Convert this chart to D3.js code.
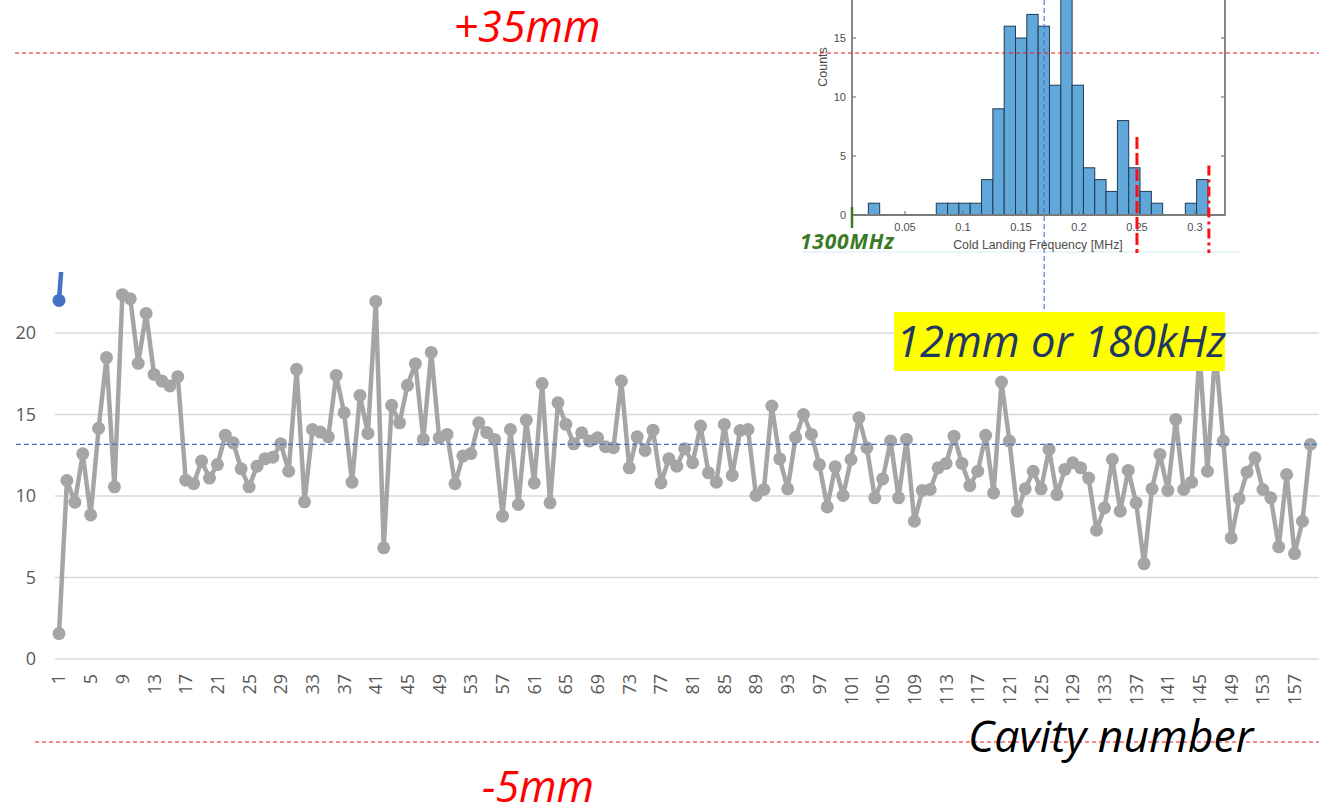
<!DOCTYPE html>
<html>
<head>
<meta charset="utf-8">
<script src="https://cdn.jsdelivr.net/npm/d3@7/dist/d3.min.js"></script>
<style>
    body { margin: 0; background: #fff; }
    svg { display: block; }
</style>
</head>
<body>
<svg id="chart" width="1319" height="811"></svg>
<script>
// Cavity data (gray series), one value per cavity, starting at cavity 1
var cavityValues = [
    1.56, 10.95, 9.62, 12.59, 8.84, 14.15, 18.49, 10.56, 22.35, 22.1,
    18.14, 21.2, 17.46, 17.05, 16.75, 17.32, 10.97, 10.75, 12.14, 11.1,
    11.93, 13.73, 13.26, 11.67, 10.56, 11.83, 12.28, 12.38, 13.2, 11.52,
    17.77, 9.64, 14.08, 13.92, 13.63, 17.4, 15.1, 10.85, 16.17, 13.84,
    21.94, 6.82, 15.56, 14.49, 16.79, 18.12, 13.47, 18.81, 13.57, 13.78,
    10.75, 12.45, 12.6, 14.5, 13.9, 13.47, 8.76, 14.08, 9.48, 14.66,
    10.8, 16.9, 9.58, 15.72, 14.4, 13.2, 13.88, 13.37, 13.57, 13.02,
    12.96, 17.05, 11.73, 13.63, 12.79, 14.04, 10.8, 12.28, 11.83, 12.9,
    12.04, 14.29, 11.42, 10.85, 14.39, 11.26, 14.02, 14.08, 10.03, 10.4,
    15.52, 12.28, 10.44, 13.6, 15.0, 13.78, 11.93, 9.33, 11.79, 10.03,
    12.24, 14.8, 12.96, 9.89, 11.05, 13.37, 9.89, 13.47, 8.45, 10.34,
    10.4, 11.73, 12.0, 13.67, 12.0, 10.64, 11.52, 13.72, 10.19, 16.99,
    13.37, 9.07, 10.44, 11.52, 10.44, 12.86, 10.09, 11.63, 12.04, 11.73,
    11.1, 7.9, 9.27, 12.24, 9.07, 11.57, 9.58, 5.85, 10.44, 12.55,
    10.34, 14.7, 10.4, 10.85, 18.8, 11.52, 19.0, 13.37, 7.43, 9.83,
    11.46, 12.34, 10.4, 9.89, 6.88, 11.32, 6.47, 8.45, 13.16
];
// Second (blue) series, only its first point is inside the plot
var blueValues = [22.0, 28.5];
var yTicks = [0, 5, 10, 15, 20];
var xTicks = d3.range(1, 162, 4);
var meanLevel = 13.17;          // blue dashed reference
var limitLevels = [37.18, -5.09]; // +35mm / -5mm red dashed lines

// Histogram inset (cold landing frequency)
var histCounts = [1, 0, 0, 0, 0, 0, 1, 1, 1, 1, 3, 9, 16, 15, 17, 16, 11, 20, 11, 4, 3, 2, 8, 4, 2, 1, 0, 0, 1, 3];
var histStart = 0.0184;
var histBin = 0.00976;
var histXTicks = [0.05, 0.1, 0.15, 0.2, 0.25, 0.3];
var histYTicks = [0, 5, 10, 15];
var markerFreq = 0.17;
var redFreqs = [0.25, 0.312];
var redTops = [6.6, 4.2];

var svg = d3.select('#chart');

var x = d3.scaleLinear().domain([1, cavityValues.length]).range([59, 1310.4]);
var y = d3.scaleLinear().domain([0, 20]).range([659, 333]);

svg.append('defs').append('clipPath').attr('id', 'plotClip')
    .append('rect').attr('x', 0).attr('y', 272).attr('width', 1319).attr('height', 430);

// Gridlines + y labels
var grid = svg.append('g').attr('class', 'grid');
grid.selectAll('line').data(yTicks).enter().append('line')
    .attr('x1', 55).attr('x2', 1319)
    .attr('y1', function (d) { return y(d); })
    .attr('y2', function (d) { return y(d); })
    .style('stroke', '#d9d9d9').style('stroke-width', 1.6);
grid.selectAll('text').data(yTicks).enter().append('text')
    .attr('x', 36)
    .attr('y', function (d) { return y(d); })
    .attr('dy', '0.35em')
    .attr('text-anchor', 'end')
    .style('font', '18px "Open Sans", sans-serif')
    .style('fill', '#595959')
    .text(function (d) { return d; });

// x labels, rotated
svg.append('g').attr('class', 'xlabels')
    .selectAll('text').data(xTicks).enter().append('text')
    .attr('transform', function (d) { return 'translate(' + x(d) + ',674) rotate(-90)'; })
    .attr('dy', '0.36em')
    .attr('text-anchor', 'end')
    .style('font', '18px "Open Sans", sans-serif')
    .style('fill', '#595959')
    .text(function (d) { return d; });

// Series
var line = d3.line()
    .x(function (d, i) { return x(i + 1); })
    .y(function (d) { return y(d); });

var plot = svg.append('g').attr('clip-path', 'url(#plotClip)');

plot.append('path').datum(blueValues)
    .attr('d', line)
    .style('fill', 'none').style('stroke', '#4472c4').style('stroke-width', 4.5)
    .style('stroke-linejoin', 'round');
plot.selectAll('circle.blue').data(blueValues).enter().append('circle')
    .attr('class', 'blue')
    .attr('cx', function (d, i) { return x(i + 1); })
    .attr('cy', function (d) { return y(d); })
    .attr('r', 6.5)
    .style('fill', '#4472c4');

plot.append('path').datum(cavityValues)
    .attr('d', line)
    .style('fill', 'none').style('stroke', '#a5a5a5').style('stroke-width', 4.5)
    .style('stroke-linejoin', 'round');
plot.selectAll('circle.gray').data(cavityValues).enter().append('circle')
    .attr('class', 'gray')
    .attr('cx', function (d, i) { return x(i + 1); })
    .attr('cy', function (d) { return y(d); })
    .attr('r', 6.5)
    .style('fill', '#a5a5a5');

// ---- Histogram inset ----
var hx = d3.scaleLinear().domain([0.00431, 0.3259]).range([852, 1225]);
var hy = d3.scaleLinear().domain([0, 15]).range([215, 38]);
var inset = svg.append('g').attr('class', 'inset');

inset.append('line')
    .attr('x1', 802).attr('x2', 1240).attr('y1', 252).attr('y2', 252)
    .style('stroke', '#d6ecf3').style('stroke-width', 1);

var bins = histCounts.map(function (c, i) {
    return { x0: histStart + i * histBin, x1: histStart + (i + 1) * histBin, count: c };
}).filter(function (d) { return d.count > 0; });

inset.selectAll('rect.bar').data(bins).enter().append('rect')
    .attr('class', 'bar')
    .attr('x', function (d) { return hx(d.x0); })
    .attr('y', function (d) { return hy(d.count); })
    .attr('width', function (d) { return hx(d.x1) - hx(d.x0); })
    .attr('height', function (d) { return hy(0) - hy(d.count); })
    .style('fill', '#62a7da')
    .style('stroke', '#1f3b55')
    .style('stroke-width', 1);

var axisColor = '#7a7a7a';
inset.append('path')
    .attr('d', 'M' + hx.range()[0] + ',0V' + hy(0) + 'H' + hx.range()[1] + 'V0')
    .style('fill', 'none').style('stroke', axisColor).style('stroke-width', 1.8);

inset.selectAll('line.ytl').data(histYTicks.slice(1)).enter().append('line')
    .attr('class', 'ytl')
    .attr('x1', hx.range()[0]).attr('x2', hx.range()[0] + 4)
    .attr('y1', function (d) { return hy(d); }).attr('y2', function (d) { return hy(d); })
    .style('stroke', axisColor).style('stroke-width', 1.2);
inset.selectAll('line.ytr').data(histYTicks.slice(1)).enter().append('line')
    .attr('class', 'ytr')
    .attr('x1', hx.range()[1]).attr('x2', hx.range()[1] - 4)
    .attr('y1', function (d) { return hy(d); }).attr('y2', function (d) { return hy(d); })
    .style('stroke', axisColor).style('stroke-width', 1.2);
inset.selectAll('line.xt').data(histXTicks).enter().append('line')
    .attr('class', 'xt')
    .attr('x1', function (d) { return hx(d); }).attr('x2', function (d) { return hx(d); })
    .attr('y1', hy(0)).attr('y2', hy(0) - 4)
    .style('stroke', axisColor).style('stroke-width', 1.2);

var insetFont = '"Liberation Sans", Arial, sans-serif';
inset.selectAll('text.yl').data(histYTicks).enter().append('text')
    .attr('class', 'yl')
    .attr('x', 846)
    .attr('y', function (d) { return hy(d); })
    .attr('dy', '0.35em')
    .attr('text-anchor', 'end')
    .style('font', '11px ' + insetFont)
    .style('fill', '#4d4d4d')
    .text(function (d) { return d; });
inset.selectAll('text.xl').data(histXTicks).enter().append('text')
    .attr('class', 'xl')
    .attr('x', function (d) { return hx(d); })
    .attr('y', 231)
    .attr('text-anchor', 'middle')
    .style('font', '11px ' + insetFont)
    .style('fill', '#4d4d4d')
    .text(function (d) { return d; });

inset.append('text')
    .attr('transform', 'translate(827,67) rotate(-90)')
    .attr('text-anchor', 'middle')
    .style('font', '12.5px ' + insetFont)
    .style('fill', '#4d4d4d')
    .text('Counts');
inset.append('text')
    .attr('x', 1038).attr('y', 249)
    .attr('text-anchor', 'middle')
    .style('font', '12.3px ' + insetFont)
    .style('fill', '#4d4d4d')
    .text('Cold Landing Frequency [MHz]');

// red limit markers in the histogram
inset.selectAll('line.red').data(redFreqs).enter().append('line')
    .attr('class', 'red')
    .attr('x1', function (d) { return hx(d); }).attr('x2', function (d) { return hx(d); })
    .attr('y1', function (d, i) { return hy(redTops[i]); }).attr('y2', 253)
    .style('stroke', '#ff1010').style('stroke-width', 3)
    .style('stroke-dasharray', function (d, i) { return i === 0 ? '12,4' : '10,4,3,4'; });

// 1300MHz marker
inset.append('line')
    .attr('x1', 852).attr('x2', 852).attr('y1', 207).attr('y2', 228)
    .style('stroke', '#3b7a25').style('stroke-width', 2.5);
inset.append('text')
    .attr('x', 800).attr('y', 249)
    .style('font', 'italic bold 21px "Open Sans", sans-serif')
    .style('letter-spacing', '0.8px')
    .style('fill', '#3b7a25')
    .text('1300MHz');

// ---- Reference lines & annotations ----
svg.append('line')
    .attr('x1', 16).attr('x2', 1319)
    .attr('y1', y(meanLevel)).attr('y2', y(meanLevel))
    .style('stroke', '#4472c4').style('stroke-width', 1.1).style('stroke-dasharray', '5,3');
svg.append('line')
    .attr('x1', hx(markerFreq)).attr('x2', hx(markerFreq))
    .attr('y1', 0).attr('y2', 310)
    .style('stroke', '#4472c4').style('stroke-width', 1.1).style('stroke-dasharray', '5,3');

svg.selectAll('line.limit').data(limitLevels).enter().append('line')
    .attr('class', 'limit')
    .attr('x1', function (d, i) { return i === 0 ? 15 : 35; }).attr('x2', 1319)
    .attr('y1', function (d) { return y(d); }).attr('y2', function (d) { return y(d); })
    .style('stroke', '#f01818').style('stroke-width', 1.1).style('stroke-dasharray', '4,3');

var noteFont = 'italic 43px "Open Sans", sans-serif';
svg.append('text').attr('x', 527).attr('y', 42).attr('text-anchor', 'middle')
    .style('font', noteFont).style('fill', '#ff0000').text('+35mm');
svg.append('text').attr('x', 538).attr('y', 802).attr('text-anchor', 'middle')
    .style('font', noteFont).style('fill', '#ff0000').text('-5mm');
svg.append('text').attr('x', 968).attr('y', 752)
    .style('font', 'italic 44.5px "Open Sans", sans-serif').style('fill', '#000').text('Cavity number');

svg.append('rect').attr('x', 894).attr('y', 312).attr('width', 331).attr('height', 59)
    .style('fill', '#ffff00');
svg.append('text').attr('x', 896).attr('y', 357)
    .style('font', 'italic 43.5px "Open Sans", sans-serif').style('fill', '#1f3864')
    .text('12mm or 180kHz');
</script>
</body>
</html>
